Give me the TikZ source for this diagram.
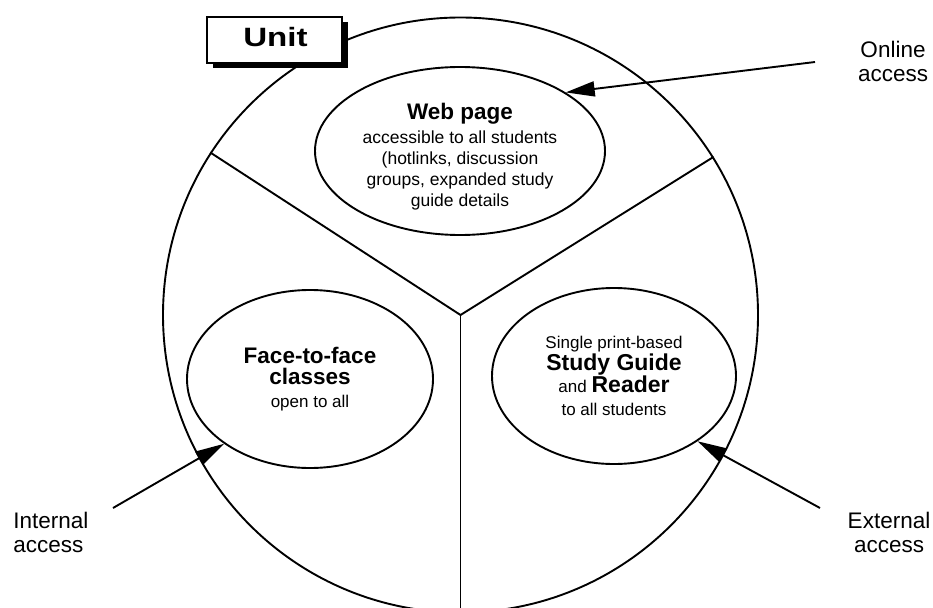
\documentclass[tikz,border=0pt]{standalone}
\usepackage{fontspec}
\setmainfont{Liberation Sans}
\usetikzlibrary{arrows.meta,shapes.geometric}
\begin{document}
\begin{tikzpicture}[x=1pt,y=-1pt,
  line width=1.9pt,
  bub/.style={draw,ellipse,inner sep=0pt,align=center,fill=white},
  small/.style={font=\fontsize{17.5}{21}\selectfont},
  lab/.style={align=center,font=\fontsize{22.5}{24}\selectfont},
  acc/.style={-{Triangle[length=29pt,width=15pt]}},
]
\useasboundingbox (0,0) rectangle (933,607);
\clip (0,0) rectangle (933,607);
% big circle and dividers
\node[draw,circle,minimum size=595pt,inner sep=0pt] (C) at (460.5,315) {};
\coordinate (J) at (460.5,315);
\draw[line join=miter] (C.147.4) -- (J) -- (C.32.6);
\draw (J) -- (C.south);
% Unit box with shadow
\node[fill=black,minimum width=135pt,minimum height=46pt,inner sep=0pt] (Ush) at (280,45) {};
\node[draw,fill=white,minimum width=135pt,minimum height=46pt,inner sep=0pt] (U) at (274.5,40) {};
\node[font=\bfseries\fontsize{26.5}{26.5}\selectfont,inner sep=0pt] (Ut) at (275.5,37.5) {\scalebox{1.25}[1]{Unit}};
% ellipses
\node[bub,minimum width=290pt,minimum height=168pt] (W) at (460,151) {};
\node[small,align=center,inner sep=0pt] (Wt) at (460,157)
  {{\bfseries\fontsize{22.5}{24}\selectfont Web page}\\[3pt]
   accessible to all students\\(hotlinks, discussion\\groups, expanded study\\guide details};
\node[bub,small,minimum width=246pt,minimum height=178pt] (F) at (310,379)
  {{\bfseries\fontsize{22.5}{22}\selectfont Face-to-face}\\
   {\bfseries\fontsize{22.5}{22}\selectfont classes}\\[2pt]
   {\fontsize{17}{21}\selectfont open to all}};
\node[bub,small,minimum width=244pt,minimum height=176pt] (S) at (614,376)
  {{\fontsize{17}{20}\selectfont Single print-based}\\[1pt]
   {\bfseries\fontsize{23}{22}\selectfont Study Guide}\\
   {\fontsize{17}{20}\selectfont and} {\bfseries\fontsize{23}{22}\selectfont Reader}\\[2pt]
   {\fontsize{17}{20}\selectfont to all students}};
% access arrows
\coordinate (onT) at (815,62);
\coordinate (inT) at (113,508);
\coordinate (exT) at (820,508);
\draw[acc] (onT) -- (W.29);
\draw[acc] (inT) -- (F.217.6);
\draw[acc] (exT) -- (S.322.4);
% labels
\node[lab] (on) at (893,61) {Online\\access};
\node[lab,align=left,anchor=west] (in) at (9,532) {Internal\\access};
\node[lab] (ex) at (889,532) {External\\access};
\end{tikzpicture}
\end{document}
